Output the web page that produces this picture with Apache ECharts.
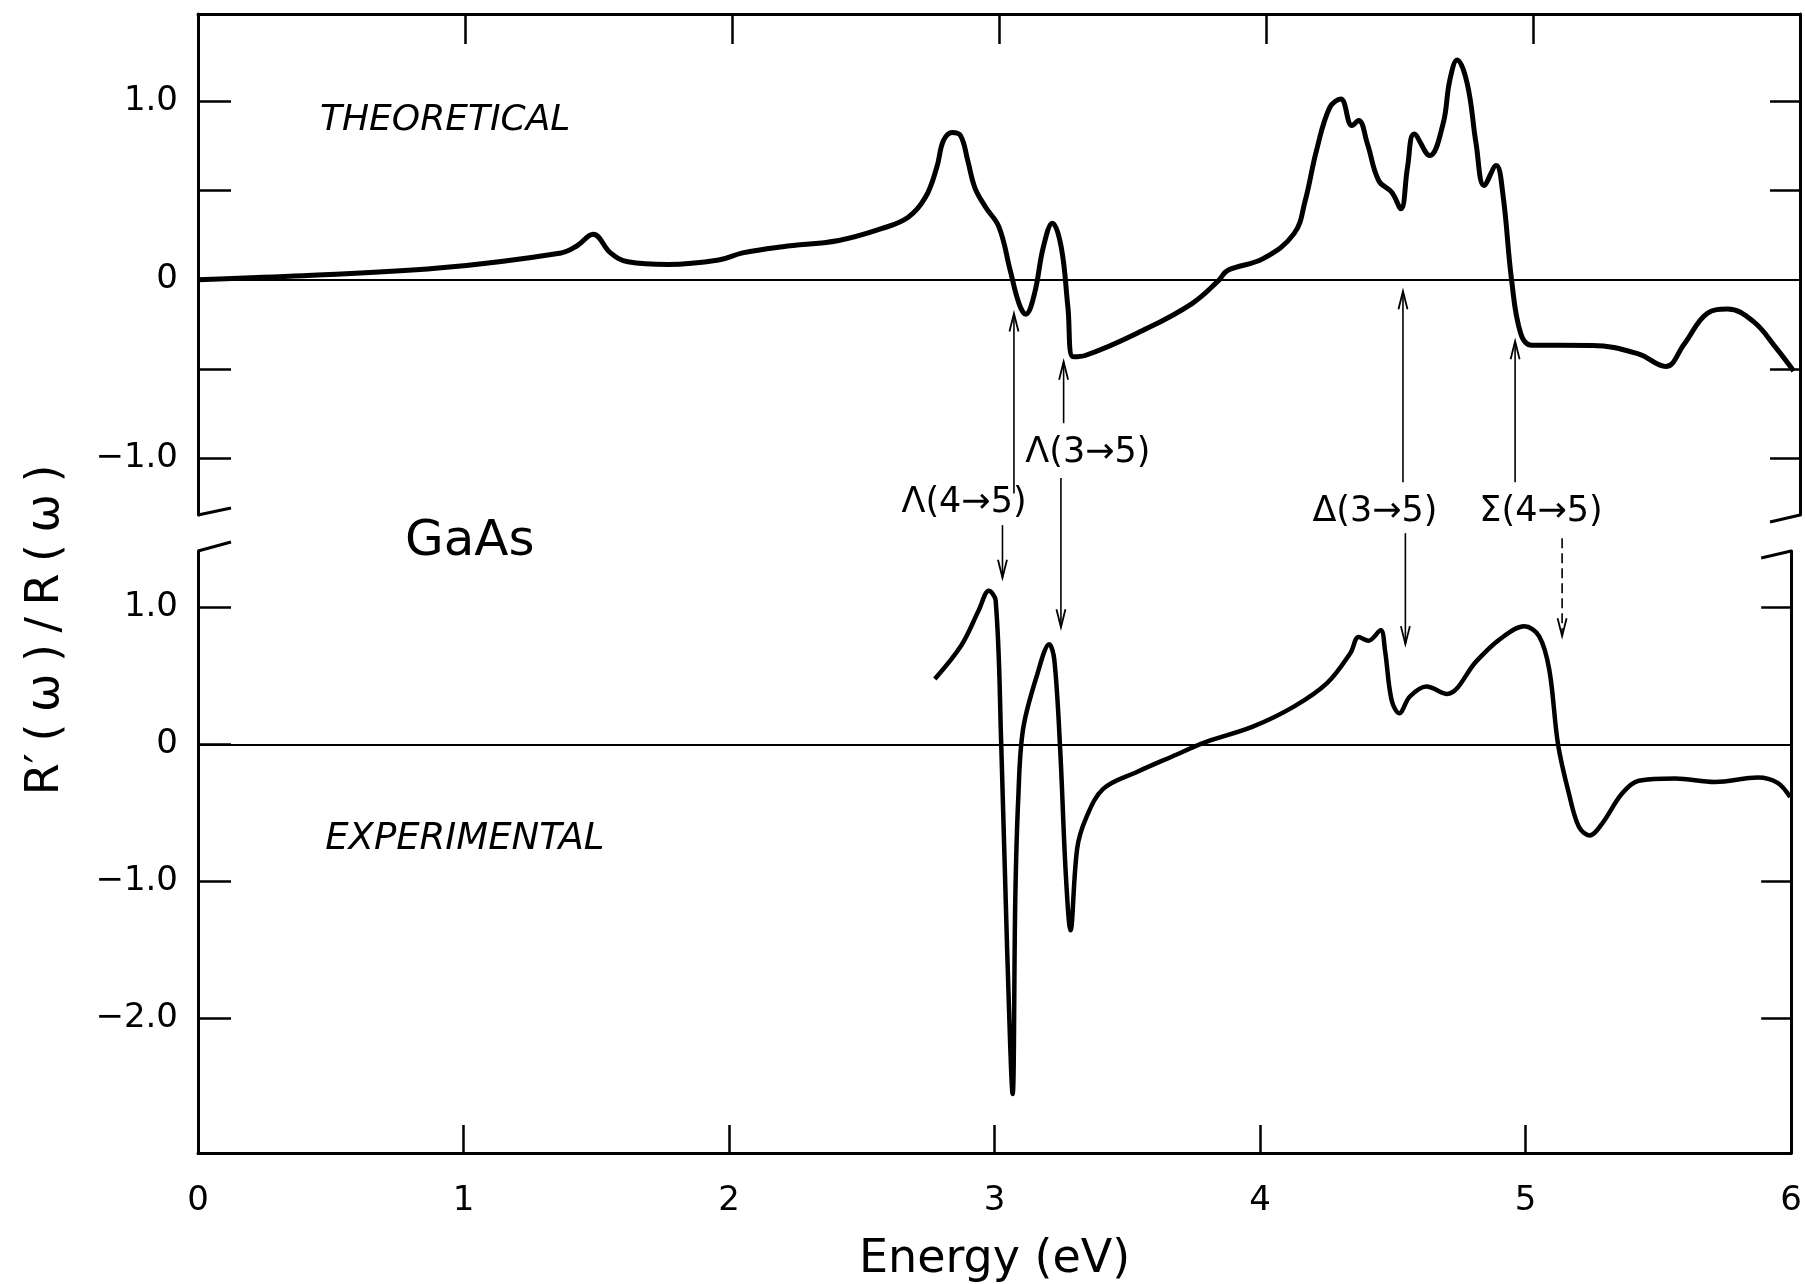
<!DOCTYPE html>
<html><head><meta charset="utf-8">
<script src="https://cdn.jsdelivr.net/npm/echarts@6/dist/echarts.min.js"></script>
<style>html,body{margin:0;padding:0;background:#fff}#c{width:1805px;height:1284px}</style>
</head><body><div id="c"></div>
<script>
// ---------- data ----------
const theoEnergy = [0.00,0.36,0.90,1.36,1.42,1.48,1.545,1.61,1.76,1.95,2.04,2.19,2.40,2.56,2.66,2.725,2.767,2.792,2.825,2.856,2.883,2.909,2.95,3.00,3.042,3.075,3.10,3.133,3.166,3.20,3.233,3.258,3.278,3.325,3.54,3.723,3.823,3.856,3.989,4.105,4.147,4.189,4.239,4.28,4.322,4.347,4.38,4.422,4.471,4.505,4.53,4.555,4.613,4.663,4.688,4.716,4.754,4.787,4.817,4.862,4.887,4.92,4.954,4.995,5.221,5.394,5.497,5.566,5.652,5.728,5.825,5.911,5.976];
const theoValue  = [0.00,0.02,0.065,0.15,0.19,0.255,0.15,0.10,0.085,0.11,0.15,0.185,0.22,0.286,0.35,0.463,0.63,0.78,0.826,0.808,0.668,0.518,0.406,0.295,0.052,-0.134,-0.194,-0.078,0.183,0.317,0.183,-0.153,-0.433,-0.424,-0.284,-0.134,-0.004,0.052,0.118,0.258,0.444,0.724,0.966,1.013,0.864,0.892,0.761,0.556,0.49,0.398,0.63,0.817,0.696,0.873,1.116,1.232,1.097,0.761,0.528,0.64,0.482,-0.004,-0.302,-0.368,-0.369,-0.416,-0.487,-0.362,-0.19,-0.165,-0.234,-0.384,-0.512];
const expEnergy  = [2.775,2.875,2.94,2.978,3.004,3.025,3.047,3.068,3.078,3.089,3.107,3.16,3.206,3.225,3.247,3.268,3.286,3.311,3.344,3.409,3.538,3.667,3.797,3.97,4.127,4.252,4.34,4.371,4.408,4.454,4.47,4.495,4.524,4.564,4.626,4.704,4.814,4.901,4.995,5.051,5.089,5.122,5.163,5.201,5.241,5.288,5.363,5.426,5.563,5.713,5.875,5.949,5.996];
const expValue   = [0.477,0.723,0.976,1.12,1.05,0.0,-1.48,-2.55,-1.12,-0.40,0.108,0.506,0.73,0.615,-0.036,-0.94,-1.356,-0.76,-0.54,-0.325,-0.2,-0.09,0.018,0.127,0.275,0.446,0.666,0.783,0.756,0.832,0.69,0.324,0.227,0.349,0.422,0.368,0.605,0.764,0.861,0.788,0.544,0.0,-0.359,-0.603,-0.664,-0.578,-0.359,-0.266,-0.249,-0.274,-0.242,-0.281,-0.384];
const xTickValues = [0,1,2,3,4,5,6];
const upperTickValues = [-1,-0.5,0,0.5,1];
const upperLabelValues = [-1,0,1];
const lowerTickValues = [-2,-1,0,1];
const lowerLabelValues = [-2,-1,0,1];
const transitionLabels = ['Λ(4→5)','Λ(3→5)','Δ(3→5)','Σ(4→5)'];
// arrow energies (eV) pointing at the theoretical and experimental structures
const upArrowEnergy   = [3.056, 3.242, 4.513, 4.933];
const downArrowEnergy = [3.013, 3.232, 4.522, 5.109];

// ---------- layout (annotation anchors in data units) ----------
const upArrowFrom = [-1.2, -0.805, -1.136, -1.136];   // upper-panel units
const upArrowTip  = [-0.19, -0.46, -0.065, -0.345];
const downArrowFrom = [-1.377, -1.113, -1.422, -1.45]; // upper-panel units
const downArrowTip  = [1.215, 0.854, 0.731, 0.789];    // lower-panel units
const labelAnchor = [[2.869,-1.254],[3.333,-0.973],[4.408,-1.30],[5.03,-1.30]];

const FONT = '"DejaVu Sans", sans-serif';
const fmt = v => v === 0 ? '0' : (v < 0 ? '\u2212' : '') + Math.abs(v).toFixed(1);

const chart = echarts.init(document.getElementById('c'));
const axisLine = {show:true, onZero:false, lineStyle:{color:'#000', width:3}};
const tickStyle = {color:'#000', width:2.5};
const zeroLine = {silent:true, symbol:'none', label:{show:false}, animation:false,
  lineStyle:{color:'#000', width:2.2, type:'solid'}, emphasis:{disabled:true}, data:[{yAxis:0}]};

chart.setOption({
  animation:false,
  backgroundColor:'#fff',
  grid:[{left:198, right:5, top:14, height:501},{left:198, right:5, top:551, height:608}],
  xAxis:[
    {gridIndex:0, type:'value', min:0, max:6, position:'top', axisLine,
     axisTick:{inside:true, length:30, customValues:[1,2,3,4,5], lineStyle:tickStyle},
     axisLabel:{show:false}, splitLine:{show:false}},
    {gridIndex:1, type:'value', min:0, max:6, position:'bottom', axisLine,
     axisTick:{inside:true, length:28, customValues:[1,2,3,4,5], lineStyle:tickStyle},
     axisLabel:{customValues:xTickValues, formatter:v=>String(v), color:'#000', fontSize:34, fontFamily:FONT, margin:31},
     splitLine:{show:false},
     name:'Energy (eV)', nameLocation:'middle', nameGap:84,
     nameTextStyle:{color:'#000', fontSize:46, fontFamily:FONT}}
  ],
  yAxis:[
    {gridIndex:0, type:'value', min:-1.32, max:1.49, position:'left', axisLine,
     axisTick:{inside:true, length:33, customValues:upperTickValues, lineStyle:tickStyle},
     axisLabel:{customValues:upperLabelValues, formatter:fmt, color:'#000', fontSize:34, fontFamily:FONT, margin:20},
     splitLine:{show:false}},
    {gridIndex:0, type:'value', min:-1.32, max:1.49, position:'right', axisLine,
     axisTick:{inside:true, length:30, customValues:[-1,-0.5,0.5,1], lineStyle:tickStyle},
     axisLabel:{show:false}, splitLine:{show:false}},
    {gridIndex:1, type:'value', min:-2.98, max:1.41, position:'left', axisLine,
     axisTick:{inside:true, length:33, customValues:lowerTickValues, lineStyle:tickStyle},
     axisLabel:{customValues:lowerLabelValues, formatter:fmt, color:'#000', fontSize:34, fontFamily:FONT, margin:20},
     splitLine:{show:false}},
    {gridIndex:1, type:'value', min:-2.98, max:1.41, position:'right', axisLine,
     axisTick:{inside:true, length:30, customValues:[-2,-1,1], lineStyle:tickStyle},
     axisLabel:{show:false}, splitLine:{show:false}}
  ],
  series:[
    {name:'Theoretical', type:'line', xAxisIndex:0, yAxisIndex:0, showSymbol:false, smooth:0.4,
     lineStyle:{color:'#000', width:5, join:'round'}, data:theoEnergy.map((x,i)=>[x,theoValue[i]]), markLine:zeroLine},
    {name:'Experimental', type:'line', xAxisIndex:1, yAxisIndex:2, showSymbol:false, smooth:0.35,
     lineStyle:{color:'#000', width:4.5, join:'round'}, data:expEnergy.map((x,i)=>[x,expValue[i]]), markLine:zeroLine}
  ]
});

// ---------- decorations via axis conversions ----------
const U = (x,y) => chart.convertToPixel({xAxisIndex:0, yAxisIndex:0},[x,y]);
const L = (x,y) => chart.convertToPixel({xAxisIndex:1, yAxisIndex:2},[x,y]);
const g = [];
const line = (a,b,w,dash) => g.push({type:'line', silent:true, shape:{x1:a[0],y1:a[1],x2:b[0],y2:b[1]},
  style:{stroke:'#000', lineWidth:w, lineDash:dash||null}});
const head = (t,dir) => g.push({type:'polyline', silent:true,
  shape:{points:[[t[0]-4.5,t[1]+dir*18],[t[0],t[1]],[t[0]+4.5,t[1]+dir*18]]},
  style:{stroke:'#000', lineWidth:1.8, fill:null}});
const text = (p,s,size,opts) => g.push(Object.assign({type:'text', silent:true, x:p[0], y:p[1],
  style:Object.assign({text:s, fill:'#000', fontSize:size, fontFamily:FONT, align:'center', verticalAlign:'middle'}, (opts&&opts.style)||{})},
  (opts&&opts.el)||{}));

// axis breaks
const ul = U(0,-1.32), ur = U(6,-1.32), ll = L(0,1.41), lr = L(6,1.41);
line(ul,[ul[0]+33,ul[1]-7],3); line(ur,[ur[0]-30,ur[1]+7],3);
line(ll,[ll[0]+33,ll[1]-9],3); line(lr,[lr[0]-30,lr[1]+7],3);

// arrows (vertical: x from the shared energy scale)
for (let i=0;i<4;i++){
  const a = U(upArrowEnergy[i], upArrowFrom[i]), t = U(upArrowEnergy[i], upArrowTip[i]);
  line(a,[a[0],t[1]],1.6); head([a[0],t[1]],1);
  const b = U(downArrowEnergy[i], downArrowFrom[i]), d = L(downArrowEnergy[i], downArrowTip[i]);
  line(b,[b[0],d[1]],1.6, i===3 ? [10,5] : null); head([b[0],d[1]],-1);
  text(U(labelAnchor[i][0], labelAnchor[i][1]), transitionLabels[i], 35);
}

// panel texts
text(U(0.457,0.89),'THEORETICAL',36,{style:{align:'left', fontStyle:'italic'}});
text(U(0.775,-1.47),'GaAs',50,{style:{align:'left'}});
text(L(0.479,-0.69),'EXPERIMENTAL',37,{style:{align:'left', fontStyle:'italic'}});
// y-axis title spanning both panels
text([46,630],'R\u2032\u2005(\u2005ω\u2005)\u2005/\u2005R\u2005(\u2005ω\u2005)',46,{el:{rotation:Math.PI/2}});

chart.setOption({graphic:g});
</script></body></html>
